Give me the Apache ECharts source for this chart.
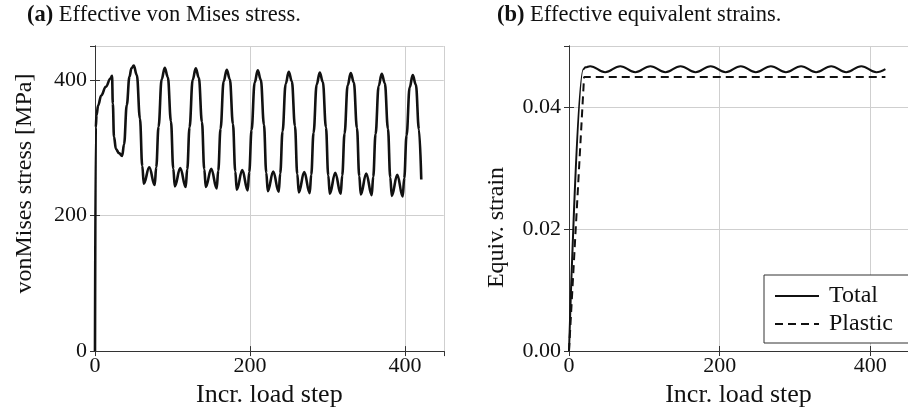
<!DOCTYPE html>
<html><head><meta charset="utf-8">
<script src="https://cdn.jsdelivr.net/npm/echarts@6/dist/echarts.min.js"></script>
<style>html,body{margin:0;padding:0;background:#fff}#c{width:908px;height:413px}</style>
</head><body><div id="c"></div>
<script>
// ---- data ----
const stressStep = [0,1,2,4,8,14,20,22,23,24.5,27,31,35,37.5,41,44.5,47,
  50,54,58,61,63,70,77,79,82,86,
  90,94,98,101,103,110,117,119,122,126,
  130,134,138,141,143,150,157,159,162,166,
  170,174,178,181,183,190,197,199,202,206,
  210,214,218,221,223,230,237,239,242,246,
  250,254,258,261,263,270,277,279,282,286,
  290,294,298,301,303,310,317,319,322,326,
  330,334,338,341,343,350,357,359,362,366,
  370,374,378,381,383,390,397,399,402,406,
  410,414,418,421];
const stressMPa = [0,330,348,362,377,390,402,406,365,316,298,292,288,305,363,405,417,
  421,407,343,273,247,271,245,271,331,401,
  418,404,339,269,243,270,242,268,330,400,
  417,403,338,268,242,269,240,266,328,398,
  415,401,335,265,238,267,237,264,326,396,
  414,400,334,263,236,265,235,262,324,394,
  412,398,332,261,234,264,233,260,322,393,
  411,397,330,259,232,263,232,259,321,392,
  410,396,329,258,231,262,230,257,320,391,
  409,395,328,256,229,260,228,255,318,389,
  407,393,327,253];
const strainStep = [0,19,22,28,48,68,88,108,128,148,168,188,208,228,248,268,288,308,328,348,368,388,408,420];
const totalStrain = [0,0.0462,0.0465,0.0467,0.0457,0.0467,0.0457,0.0467,0.0457,0.0467,0.0457,0.0467,0.0457,0.0467,0.0457,0.0467,0.0457,0.0467,0.0457,0.0467,0.0457,0.0467,0.0457,0.0462];
const plasticStep = [0,20,420];
const plasticStrain = [0,0.0449,0.0449];
const seriesNames = ['Total','Plastic'];

const FONT = 'Liberation Serif';
const TICK_FS = 22;
const frame = '#333';
const gridC = '#cfcfcf';
const txt = '#111';
const pairs = (xs, ys) => xs.map((x, i) => [x, ys[i]]);

function xAx(gi, name) {
  return [{
    type:'value', gridIndex:gi, min:0, max:450, interval:200,
    name:name, nameLocation:'middle', nameGap:30,
    nameTextStyle:{fontFamily:FONT,fontSize:26,color:txt},
    axisLine:{show:true,lineStyle:{color:frame,width:1}},
    axisTick:{show:true,inside:true,length:5,lineStyle:{color:frame}},
    axisLabel:{fontFamily:FONT,fontSize:TICK_FS,color:txt,margin:4,showMaxLabel:false},
    splitLine:{show:true,lineStyle:{color:gridC,width:1}}
  },{
    type:'value', gridIndex:gi, position:'top', min:0, max:450, interval:200,
    axisLine:{show:true,lineStyle:{color:frame,width:1}},
    axisTick:{show:true,inside:true,length:5,lineStyle:{color:frame}},
    axisLabel:{show:false}, splitLine:{show:false}
  }];
}
function yAx(gi, name, max, interval, fmt, gap, pad) {
  return [{
    type:'value', gridIndex:gi, min:0, max:max, interval:interval,
    name:name, nameLocation:'middle', nameGap:gap, nameRotate:90,
    nameTextStyle:{fontFamily:FONT,fontSize:24,color:txt,padding:pad},
    axisLine:{show:true,lineStyle:{color:frame,width:1}},
    axisTick:{show:true,inside:true,length:5,lineStyle:{color:frame}},
    axisLabel:{fontFamily:FONT,fontSize:TICK_FS,color:txt,margin:8,showMaxLabel:false,formatter:fmt},
    splitLine:{show:true,lineStyle:{color:gridC,width:1}}
  },{
    type:'value', gridIndex:gi, position:'right', min:0, max:max, interval:interval,
    axisLine:{show:true,lineStyle:{color:frame,width:1}},
    axisTick:{show:true,inside:true,length:5,lineStyle:{color:frame}},
    axisLabel:{show:false}, splitLine:{show:false}
  }];
}
const titleStyle = {fontFamily:FONT,fontSize:22.5,fontWeight:'normal',color:txt,
  rich:{b:{fontFamily:FONT,fontSize:22.5,fontWeight:'bold',color:txt}}};

const chart = echarts.init(document.getElementById('c'), null, {renderer:'canvas'});
chart.setOption({
  animation:false,
  backgroundColor:'#fff',
  title:[
    {text:'{b|(a)} Effective von Mises stress.', left:27, top:4, padding:0, textStyle:titleStyle},
    {text:'{b|(b)} Effective equivalent strains.', left:497, top:4, padding:0, textStyle:titleStyle}
  ],
  grid:[
    {left:95, right:464.25, top:46, bottom:61},
    {left:569, right:-8.6, top:46, bottom:62}
  ],
  xAxis:[...xAx(0,'Incr. load step'), ...xAx(1,'Incr. load step')],
  yAxis:[...yAx(0,'vonMises stress [MPa]',450,200,v=>String(v),58,[0,0,0,30]),
         ...yAx(1,'Equiv. strain',0.05,0.02,v=>v.toFixed(2),60,[0,58,0,0])],
  legend:{
    data:seriesNames, orient:'vertical', left:764, top:275,
    backgroundColor:'#fff', borderColor:frame, borderWidth:1, borderRadius:0,
    padding:[8,24,6,10], itemGap:2, itemWidth:44, itemHeight:26,
    itemStyle:{opacity:0, borderWidth:0},
    textStyle:{fontFamily:FONT,fontSize:24,color:txt,lineHeight:26,padding:[0,0,0,5]}
  },
  series:[
    {type:'line', xAxisIndex:0, yAxisIndex:0, data:pairs(stressStep,stressMPa),
     showSymbol:false, symbol:'none', smooth:0.4, smoothMonotone:'x',
     lineStyle:{color:txt,width:2.6}},
    {name:'Total', type:'line', xAxisIndex:2, yAxisIndex:2, data:pairs(strainStep,totalStrain),
     showSymbol:false, symbol:'none', smooth:0.4, smoothMonotone:'x',
     itemStyle:{color:txt}, lineStyle:{color:txt,width:2}},
    {name:'Plastic', type:'line', xAxisIndex:2, yAxisIndex:2, data:pairs(plasticStep,plasticStrain),
     showSymbol:false, symbol:'none',
     itemStyle:{color:txt}, lineStyle:{color:txt,width:2,type:[8,5]}}
  ]
});
</script></body></html>
